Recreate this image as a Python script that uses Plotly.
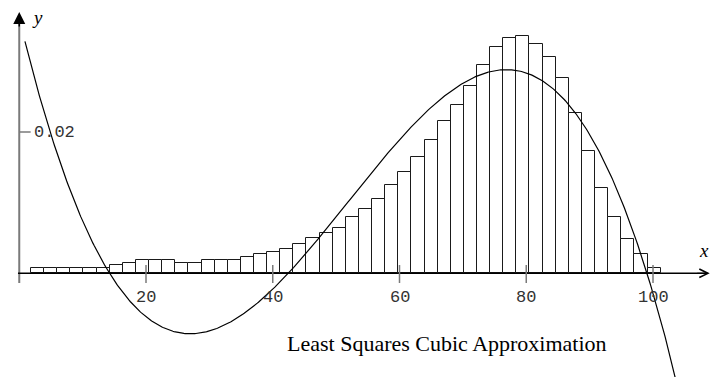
import numpy as np
import plotly.graph_objects as go

# Histogram: 48 bins of equal width, density values
bin_start = 1.85
bin_width = 2.07
densities = [
    0.00071, 0.00071, 0.00071, 0.00071, 0.00071, 0.00071,
    0.00118, 0.00150, 0.00188, 0.00188, 0.00188, 0.00150,
    0.00150, 0.00188, 0.00188, 0.00188, 0.00226, 0.00269,
    0.00301, 0.00340, 0.00415, 0.00495, 0.00566, 0.00641,
    0.00793, 0.00906, 0.01056, 0.01246, 0.01434, 0.01650,
    0.01887, 0.02151, 0.02382, 0.02647, 0.02948, 0.03207,
    0.03326, 0.03359, 0.03246, 0.03057, 0.02760, 0.02265,
    0.01735, 0.01203, 0.00793, 0.00490, 0.00269, 0.00071,
]

# Cubic approximation: leading coefficient and real roots
cubic_lead = -6.03e-7
cubic_roots = [14.25, 42.45, 99.05]
curve_domain = (0.9, 104.5)

x_ticks = [20, 40, 60, 80, 100]
y_ticks = [0.02]
y_tick_labels = ["0.02"]
title_text = "Least Squares Cubic Approximation"

x_range = [-3.037, 109.31]
y_range = [-0.014678, 0.038683]

centers = bin_start + bin_width * (np.arange(len(densities)) + 0.5)
coeffs = cubic_lead * np.poly(cubic_roots)
xs = np.linspace(curve_domain[0], curve_domain[1], 600)
ys = np.polyval(coeffs, xs)

fig = go.Figure()
fig.add_trace(go.Bar(
    x=centers, y=densities, width=bin_width,
    marker=dict(color="white", line=dict(color="#1a1a1a", width=1)),
    hoverinfo="skip",
))
fig.add_trace(go.Scatter(
    x=xs, y=ys, mode="lines",
    line=dict(color="black", width=1.2),
    hoverinfo="skip",
))

shapes = []
# y axis (grey)
shapes.append(dict(type="line", xref="x", yref="y", x0=0, x1=0,
                   y0=-0.00137, y1=0.0362, line=dict(color="#7a7a7a", width=2)))
# x axis (black)
shapes.append(dict(type="line", xref="x", yref="y", x0=-0.2, x1=108.6,
                   y0=0, y1=0, line=dict(color="black", width=1.5)))
for t in x_ticks:
    shapes.append(dict(type="line", xref="x", yref="y", x0=t, x1=t,
                       y0=-0.00137, y1=0.00117, line=dict(color="#7a7a7a", width=1.5)))
for t in y_ticks:
    shapes.append(dict(type="line", xref="x", yref="y", x0=0, x1=1.8,
                       y0=t, y1=t, line=dict(color="#7a7a7a", width=1.5)))

annotations = []
# arrow heads
annotations.append(dict(x=0, y=0.0370, xref="x", yref="y", ax=0, ay=16,
                        showarrow=True, arrowhead=2, arrowsize=1.6, arrowwidth=1.5,
                        arrowcolor="black", text=""))
annotations.append(dict(x=108.95, y=0, xref="x", yref="y", ax=-14, ay=0,
                        showarrow=True, arrowhead=5, arrowsize=1.4, arrowwidth=1.2,
                        arrowcolor="black", text=""))
for t in x_ticks:
    annotations.append(dict(x=t, y=-0.00336, xref="x", yref="y", text=str(t),
                            showarrow=False, xanchor="center", yanchor="middle",
                            font=dict(family="Liberation Mono", size=17, color="#333333")))
for t, lab in zip(y_ticks, y_tick_labels):
    annotations.append(dict(x=1.95, y=t, xref="x", yref="y", text=lab,
                            showarrow=False, xanchor="left", yanchor="middle",
                            font=dict(family="Liberation Mono", size=17, color="#333333")))
annotations.append(dict(x=447 / 712, y=1 - 343 / 377, xref="paper", yref="paper",
                        text=title_text, showarrow=False, xanchor="center", yanchor="middle",
                        font=dict(family="Liberation Serif", size=22, color="black")))
annotations.append(dict(x=37 / 712, y=1 - 18 / 377, xref="paper", yref="paper",
                        text="<i>y</i>", showarrow=False, xanchor="center", yanchor="middle",
                        font=dict(family="Liberation Serif", size=19, color="black")))
annotations.append(dict(x=711 / 712, y=1 - 250 / 377, xref="paper", yref="paper",
                        text="<i>x</i>", showarrow=False, xanchor="right", yanchor="middle",
                        font=dict(family="Liberation Serif", size=19, color="black")))

fig.update_layout(
    width=712, height=377, autosize=False,
    margin=dict(l=0, r=0, t=0, b=0),
    paper_bgcolor="white", plot_bgcolor="white",
    showlegend=False, bargap=0,
    xaxis=dict(range=x_range, visible=False, fixedrange=True),
    yaxis=dict(range=y_range, visible=False, fixedrange=True),
    shapes=shapes, annotations=annotations,
)

fig.write_html("out.html", config={"displayModeBar": False})
